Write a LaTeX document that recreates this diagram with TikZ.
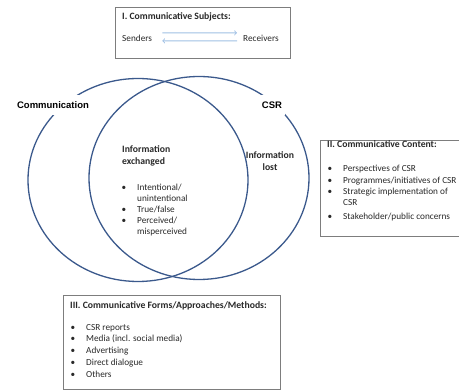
\documentclass[tikz,border=0pt]{standalone}
\usepackage{fontspec}
\setmainfont{Carlito}
\newfontfamily\headfont{Liberation Sans}
\usetikzlibrary{shapes.geometric}

\definecolor{vennblue}{RGB}{59,89,140}
\definecolor{boxgray}{RGB}{125,125,125}
\definecolor{arrowblue}{RGB}{160,192,228}
\definecolor{textgray}{RGB}{40,40,40}

\newcommand{\bl}{\llap{\textbullet\hspace{11pt}}}

\tikzset{
  venn/.style={draw=vennblue, line width=1.3pt, ellipse, minimum width=220pt, minimum height=203pt, inner sep=0pt},
  panel/.style={draw=boxgray, line width=0.8pt},
  txt/.style={anchor=base west, inner sep=0pt, text=textgray, font=\fontsize{9.25}{11}\selectfont},
  head/.style={txt, font=\bfseries\fontsize{9.7}{11}\selectfont},
  setlabel/.style={fill=white, inner xsep=3pt, inner ysep=7pt, font=\headfont\bfseries\fontsize{9.5}{11}\selectfont},
  flow/.style={draw=arrowblue, line width=0.9pt, ->}
}

\begin{document}
\begin{tikzpicture}[x=1pt,y=-1pt]
\useasboundingbox (0,0) rectangle (459,390);

\node[venn] (commset) at (138,180) {};
\node[venn] (csrset) at (199,178) {};

\node[setlabel] (commlabel) at (53,105) {Communication};
\node[setlabel] (csrlabel) at (272,105) {CSR};

\node[head] (exch1) at (122,153) {Information};
\node[head] (exch2) at (122,165) {exchanged};
\node[txt] (exch3) at (137,191) {\bl Intentional/};
\node[txt] (exch4) at (137,202) {unintentional};
\node[txt] (exch5) at (137,213) {\bl True/false};
\node[txt] (exch6) at (137,224) {\bl Perceived/};
\node[txt] (exch7) at (137,235) {misperceived};

\node[head, anchor=base] (lost1) at (270,159) {Information};
\node[head, anchor=base] (lost2) at (270,171) {lost};

% I. subjects
\draw[panel] (115,7) rectangle (290,58);
\node[head] (subjtitle) at (122,20) {I. Communicative Subjects:};
\node[txt] (senders) at (122,42) {Senders};
\node[txt] (receivers) at (243,42) {Receivers};
\draw[flow, shorten <=10pt, shorten >=6pt] ([yshift=6pt]senders.east) -- ([yshift=6pt]receivers.west);
\draw[flow, shorten <=6pt, shorten >=10pt] ([yshift=-2pt]receivers.west) -- ([yshift=-2pt]senders.east);

% II. content
\draw[panel] (320,140) rectangle (465,236);
\node[head] (conttitle) at (327,148) {II. Communicative Content:};
\node[txt] (cont1) at (343,172) {\bl Perspectives of CSR};
\node[txt] (cont2) at (343,184) {\bl Programmes/initiatives of CSR};
\node[txt] (cont3) at (343,195) {\bl Strategic implementation of};
\node[txt] (cont4) at (343,206) {CSR};
\node[txt] (cont5) at (343,220) {\bl Stakeholder/public concerns};

% III. forms
\draw[panel] (63,295) rectangle (280,389);
\node[head] (formtitle) at (70,309) {III. Communicative Forms/Approaches/Methods:};
\node[txt] (form1) at (86,331) {\bl CSR reports};
\node[txt] (form2) at (86,342) {\bl Media (incl. social media)};
\node[txt] (form3) at (86,354) {\bl Advertising};
\node[txt] (form4) at (86,366) {\bl Direct dialogue};
\node[txt] (form5) at (86,378) {\bl Others};
\end{tikzpicture}
\end{document}
